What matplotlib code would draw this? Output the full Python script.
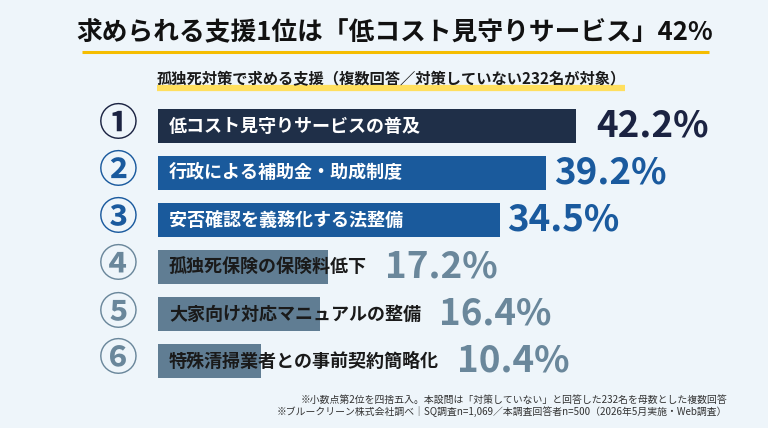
import matplotlib
matplotlib.use("Agg")
import matplotlib.pyplot as plt

plt.rcParams['font.family'] = ['Noto Sans CJK JP', 'DejaVu Sans']

title = "求められる支援1位は「低コスト見守りサービス」42%"
subtitle = "孤独死対策で求める支援（複数回答／対策していない232名が対象）"
labels = ["低コスト見守りサービスの普及", "行政による補助金・助成制度", "安否確認を義務化する法整備",
          "孤独死保険の保険料低下", "大家向け対応マニュアルの整備", "特殊清掃業者との事前契約簡略化"]
values = [42.2, 39.2, 34.5, 17.2, 16.4, 10.4]
ranks = ["①", "②", "③", "④", "⑤", "⑥"]
notes = ["※小数点第2位を四捨五入。本設問は「対策していない」と回答した232名を母数とした複数回答",
         "※ブルークリーン株式会社調べ｜SQ調査n=1,069／本調査回答者n=500（2026年5月実施・Web調査）"]

bg_color = "#EEF5FA"
bar_colors = ["#1F2F48", "#1A5A9C", "#1A5A9C", "#607D93", "#607D93", "#607D93"]
pct_colors = ["#1B2342", "#1A5A9E", "#1A5A9E", "#6A879B", "#6A879B", "#6A879B"]
rank_colors = ["#1B2342", "#1A5A9E", "#1A5A9E", "#6A879B", "#6A879B", "#6A879B"]
text_colors = ["white", "white", "white", "#1A1A1A", "#1A1A1A", "#1A1A1A"]

W, H = 768, 428
fig = plt.figure(figsize=(W / 100, H / 100), dpi=100, facecolor=bg_color)

# overlay in pixel coords for title / notes
bg = fig.add_axes([0, 0, 1, 1])
bg.set_xlim(0, W)
bg.set_ylim(H, 0)
bg.axis("off")

bg.text(395, 32, title, ha="center", va="center", fontsize=18.5, fontweight="bold", color="#111111")
bg.plot([82, 709], [52, 52], color="#F5BD00", lw=2.2, solid_capstyle="butt")
bg.plot([157, 625], [88, 88], color="#FFDF5E", lw=4.5, solid_capstyle="butt", zorder=1)
bg.text(391, 79, subtitle, ha="center", va="center", fontsize=11, fontweight="bold", color="#1A1A1A", zorder=2)
bg.text(727, 400, notes[0], ha="right", va="center", fontsize=7.1, color="#333333")
bg.text(727, 412, notes[1], ha="right", va="center", fontsize=7.1, color="#333333")

# bar axes: 9.9 px per percent, rows 47 px apart
px_per = 9.9
xmax = 60
row = 47
top = 126 - row / 2
ax = fig.add_axes([158 / W, 1 - (top + row * 6) / H, xmax * px_per / W, row * 6 / H])
ax.set_xlim(0, xmax)
ax.set_ylim(5.5, -0.5)
ax.axis("off")
ax.patch.set_alpha(0)

ypos = list(range(len(values)))
ax.barh(ypos, values, height=0.72, color=bar_colors)

fig.canvas.draw()
renderer = fig.canvas.get_renderer()
for i, (lab, v) in enumerate(zip(labels, values)):
    t = ax.annotate(lab, xy=(0, i), xytext=(11, 0), textcoords="offset pixels",
                    ha="left", va="center", fontsize=13, fontweight="bold", color=text_colors[i])
    ax.annotate(ranks[i], xy=(0, i), xytext=(-40, 1), textcoords="offset pixels",
                ha="center", va="center", fontsize=28, fontweight="bold", color=rank_colors[i])
    text_end = t.get_window_extent(renderer).x1
    bar_end = ax.transData.transform((v, i))[0]
    if text_end > bar_end:
        x = text_end + 18
    else:
        x = bar_end + (20 if i == 0 else 8)
    ax.annotate(f"{v:.1f}%", xy=(v, i), xytext=(x - bar_end, 0), textcoords="offset pixels",
                ha="left", va="center", fontsize=26.5, fontweight="bold", color=pct_colors[i])

fig.savefig("out.png", dpi=100, facecolor=bg_color)
